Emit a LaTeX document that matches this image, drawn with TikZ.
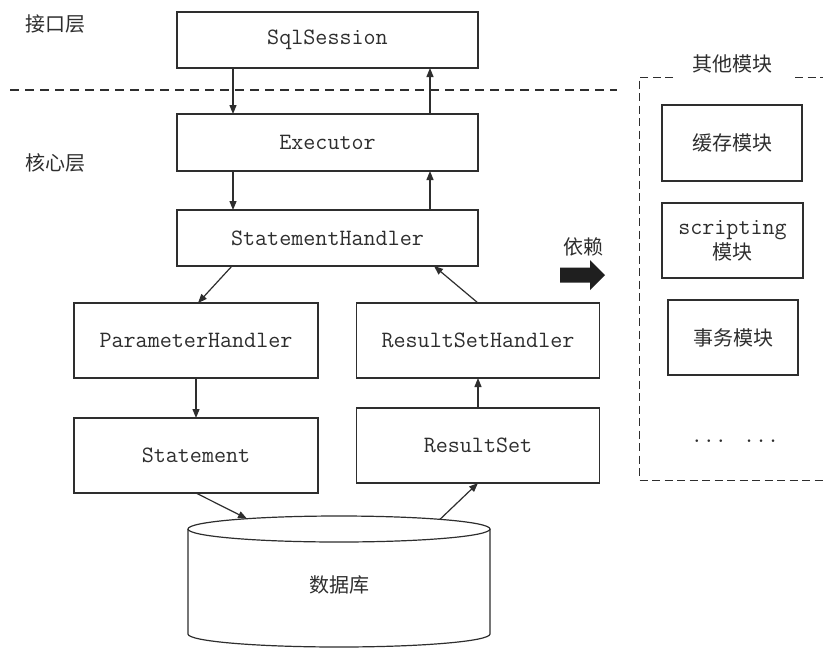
\documentclass[tikz,border=0pt]{standalone}
\usepackage{fontspec}
\newfontfamily\cjk{Noto Sans CJK SC}
\usetikzlibrary{arrows.meta}
\newcommand\codefont{\ttfamily\fontsize{23.4}{26}\selectfont}
\newcommand\hanfont{\cjk\fontsize{20}{26}\selectfont}
\colorlet{inkc}{black!82}
\begin{document}
\begin{tikzpicture}[x=1pt,y=-1pt,
  ink/.style={draw=inkc, line width=1.2pt},
  box/.style={ink, rectangle, inner sep=0pt, outer sep=0pt, text=inkc, align=center, font=\codefont},
  hanbox/.style={box, font=\hanfont},
  lbl/.style={text=inkc, font=\hanfont, inner sep=0pt},
  arr/.style={ink, -{Triangle[length=9pt,width=7pt]}},
  sepline/.style={ink, dash pattern=on 9pt off 6pt},
  groupline/.style={ink, line width=1pt, dash pattern=on 8pt off 4.5pt}]
\fill[white] (0,0) rectangle (823,649);
\useasboundingbox (0,0) rectangle (823,649);

% layer labels and the boundary between them
\node[lbl] (l1) at (56,24) {接口层};
\node[lbl] (l2) at (56,163) {核心层};
\coordinate (sepA) at (10,90);
\coordinate (sepB) at (617,90);
\draw[sepline] (sepA) -- (sepB);

% core call chain
\node[box, minimum width=301pt, minimum height=56pt] (sql)  at (327.5,40)    {SqlSession};
\node[box, minimum width=301pt, minimum height=57pt] (exec) at (327.5,142.5) {Executor};
\node[box, minimum width=301pt, minimum height=56pt] (sh)   at (327.5,238)   {StatementHandler};
\node[box, minimum width=244pt, minimum height=75pt] (ph)   at (196,340.5)   {ParameterHandler};
\node[box, minimum width=243pt, minimum height=75pt] (rsh)  at (478,340.5)   {ResultSetHandler};
\node[box, minimum width=244pt, minimum height=75pt] (st)   at (196,455.5)   {Statement};
\node[box, minimum width=243pt, minimum height=75pt] (rs)   at (478,445.5)   {ResultSet};

% database cylinder
\draw[ink, fill=white] (188,529) -- (188,634) arc[start angle=180, end angle=0, x radius=151, y radius=13] -- (490,529);
\draw[ink] (339,529) ellipse [x radius=151, y radius=13];
\node[lbl] (db) at (339,585) {数据库};
\coordinate (dbin)  at (247,518.7);
\coordinate (dbout) at (440,519.3);

% request / response arrows
\draw[arr] (sql.south -| 233,0) -- (exec.north -| 233,0);
\draw[arr] (exec.north -| 430,0) -- (sql.south -| 430,0);
\draw[arr] (exec.south -| 233,0) -- (sh.north -| 233,0);
\draw[arr] (sh.north -| 430,0) -- (exec.south -| 430,0);
\draw[arr] (sh.south -| 232,0) -- (ph.north -| 198,0);
\draw[arr] (rsh.north) -- (sh.south -| 434,0);
\draw[arr] (ph.south) -- (st.north);
\draw[arr] (st.south) -- (dbin);
\draw[arr] (dbout) -- (rs.south);
\draw[arr] (rs.north) -- (rsh.south);

% dependency arrow
\node[lbl] (dep) at (583,247) {依赖};
\fill[black!88] (560,267.5) -- (590,267.5) -- (590,260) -- (605,275) -- (590,290) -- (590,282.5) -- (560,282.5) -- cycle;

% other modules group
\node[lbl] (grp) at (732,64) {其他模块};
\draw[groupline] (673,77) -- (639,77) -- (639,480) -- (826,480);
\draw[groupline] (795,77) -- (826,77);
\node[hanbox, minimum width=140pt, minimum height=76pt] (cache) at (732,143) {缓存模块};
\node[box, minimum width=141pt, minimum height=75pt] (script) at (732.5,240.5) {scripting\\[-1pt]{\hanfont 模块}};
\node[hanbox, minimum width=130pt, minimum height=75pt] (tx) at (733,337.5) {事务模块};
\node[text=inkc, font=\codefont, inner sep=0pt] (more) at (735,441) {... ...};
\end{tikzpicture}
\end{document}
